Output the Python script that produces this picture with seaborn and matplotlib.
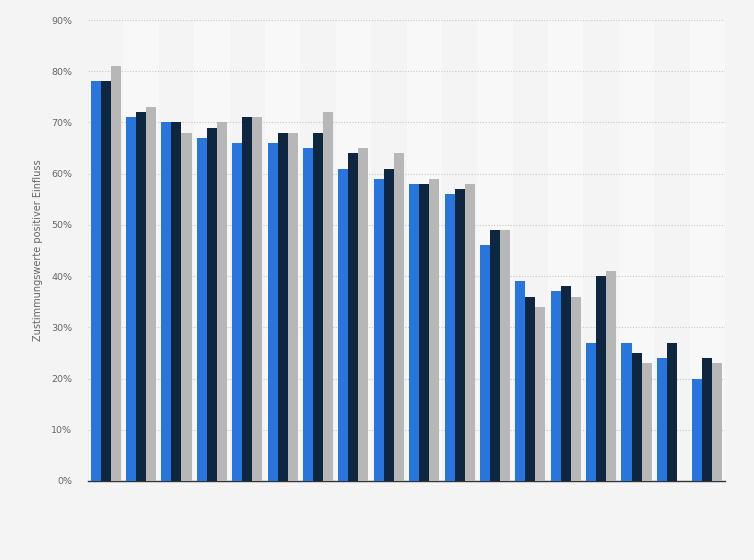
import numpy as np
import pandas as pd
import seaborn as sns
import matplotlib.pyplot as plt
from matplotlib.ticker import FuncFormatter

# values per group (18 groups, 3 series)
groups = [str(i) for i in range(1, 19)]
series_a = [78, 71, 70, 67, 66, 66, 65, 61, 59, 58, 56, 46, 39, 37, 27, 27, 24, 20]
series_b = [78, 72, 70, 69, 71, 68, 68, 64, 61, 58, 57, 49, 36, 38, 40, 25, 27, 24]
series_c = [81, 73, 68, 70, 71, 68, 72, 65, 64, 59, 58, 49, 34, 36, 41, 23, np.nan, 23]
series_names = ["A", "B", "C"]
colors = ["#2876dd", "#0f2640", "#b7b7b7"]

df = pd.DataFrame({
    "Gruppe": groups * 3,
    "Serie": np.repeat(series_names, len(groups)),
    "Wert": series_a + series_b + series_c,
})

sns.set_style("white")
fig = plt.figure(figsize=(7.54, 5.6), dpi=100, facecolor="#f4f4f4")
ax = fig.add_axes([88 / 754, 79 / 560, 637 / 754, 461 / 560])
ax.set_facecolor("#f4f4f4")

# alternating column bands
for i in range(len(groups)):
    if i % 2 == 1:
        ax.axvspan(i - 0.5, i + 0.5, color="#f8f8f8", zorder=0, lw=0)

sns.barplot(data=df, x="Gruppe", y="Wert", hue="Serie", order=groups,
            hue_order=series_names, palette=colors, width=0.85, gap=0,
            saturation=1, legend=False, ax=ax, zorder=3,
            edgecolor="none")

ax.set_xlim(-0.5, len(groups) - 0.5)
ax.set_ylim(0, 90)
ax.set_yticks(range(0, 91, 10))
ax.yaxis.set_major_formatter(FuncFormatter(lambda v, p: f"{int(v)}%"))
ax.set_xticks([])
ax.grid(axis="y", color="#c8c8c8", linestyle=(0, (1, 1.5)), linewidth=0.8, zorder=1)
ax.set_axisbelow(True)
for s in ["top", "right", "left"]:
    ax.spines[s].set_visible(False)
ax.spines["bottom"].set_color("#333333")
ax.spines["bottom"].set_linewidth(1)
ax.tick_params(axis="y", length=0, labelsize=6.8, labelcolor="#666666", pad=11.5)
ax.set_xlabel("")
ax.set_ylabel("Zustimmungswerte positiver Einfluss", fontsize=7, color="#666666", labelpad=6)

fig.savefig("out.png", dpi=100, facecolor=fig.get_facecolor())
